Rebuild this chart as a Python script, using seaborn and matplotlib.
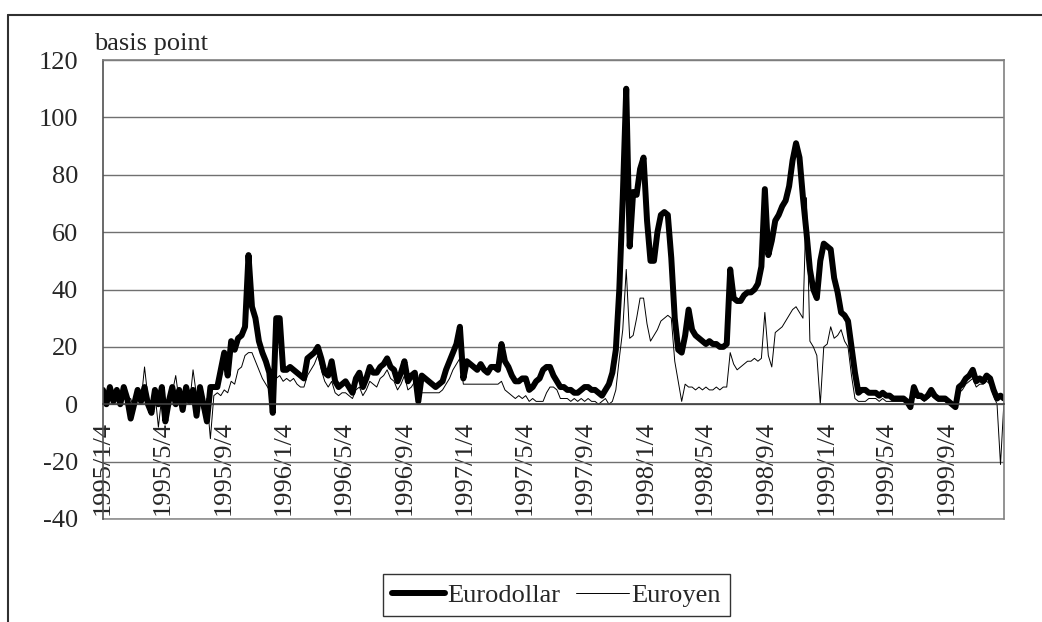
import numpy as np
import pandas as pd
import matplotlib
matplotlib.use('Agg')
import matplotlib.pyplot as plt
import seaborn as sns
from matplotlib.lines import Line2D

# weekly readings, 1995/1/4 .. 1999/12/29 (basis points)
start = '1995-01-04'
eurodollar = [
    5, 0, 6, 1, 5, 0, 6, 2, -5, 0,
    5, 1, 6, 0, -3, 5, 0, 6, -6, 1,
    6, 0, 5, -2, 6, 1, 5, -4, 6, 0,
    -6, 6, 6, 6, 12, 18, 10, 22, 19, 23,
    24, 27, 52, 34, 30, 22, 18, 15, 11, -3,
    30, 30, 12, 12, 13, 12, 11, 10, 9, 16,
    17, 18, 20, 16, 11, 10, 15, 8, 6, 7,
    8, 6, 4, 9, 11, 6, 9, 13, 11, 11,
    13, 14, 16, 13, 12, 8, 11, 15, 8, 10,
    11, 1, 10, 9, 8, 7, 6, 7, 8, 12,
    15, 18, 21, 27, 9, 15, 14, 13, 12, 14,
    12, 11, 13, 13, 12, 21, 15, 13, 10, 8,
    8, 9, 9, 5, 6, 8, 9, 12, 13, 13,
    10, 8, 6, 6, 5, 5, 4, 4, 5, 6,
    6, 5, 5, 4, 3, 5, 7, 11, 19, 40,
    72, 110, 55, 74, 73, 82, 86, 64, 50, 50,
    60, 66, 67, 66, 51, 30, 19, 18, 24, 33,
    26, 24, 23, 22, 21, 22, 21, 21, 20, 20,
    21, 47, 37, 36, 36, 38, 39, 39, 40, 42,
    48, 75, 52, 57, 64, 66, 69, 71, 76, 85,
    91, 86, 72, 60, 47, 40, 37, 50, 56, 55,
    54, 44, 39, 32, 31, 29, 20, 11, 4, 5,
    5, 4, 4, 4, 3, 4, 3, 3, 2, 2,
    2, 2, 1, -1, 6, 3, 3, 2, 3, 5,
    3, 2, 2, 2, 1, 0, -1, 6, 7, 9,
    10, 12, 8, 9, 8, 10, 9, 5, 2, 3,
    2,
]
euroyen = [
    3, 1, 4, 2, 3, 0, 4, 1, 2, -2,
    3, 1, 13, 2, -1, 4, -8, 3, 0, 2,
    4, 10, 1, 3, 2, 0, 12, 3, 1, -3,
    2, -12, 3, 4, 3, 5, 4, 8, 7, 12,
    13, 17, 18, 18, 15, 12, 9, 7, 5, 6,
    9, 10, 8, 9, 8, 9, 7, 6, 6, 10,
    12, 14, 17, 12, 8, 6, 8, 4, 3, 4,
    4, 3, 2, 5, 6, 3, 5, 8, 7, 6,
    9, 10, 12, 9, 8, 5, 7, 10, 5, 6,
    8, 4, 4, 4, 4, 4, 4, 4, 5, 7,
    9, 12, 14, 16, 7, 7, 7, 7, 7, 7,
    7, 7, 7, 7, 7, 8, 5, 4, 3, 2,
    3, 2, 3, 1, 2, 1, 1, 1, 4, 6,
    6, 5, 2, 2, 2, 1, 2, 1, 2, 1,
    2, 1, 1, 0, 1, 2, 0, 1, 5, 16,
    26, 47, 23, 24, 30, 37, 37, 28, 22, 24,
    26, 29, 30, 31, 30, 15, 8, 1, 7, 6,
    6, 5, 6, 5, 6, 5, 5, 6, 5, 6,
    6, 18, 14, 12, 13, 14, 15, 15, 16, 15,
    16, 32, 17, 13, 25, 26, 27, 29, 31, 33,
    34, 32, 30, 72, 22, 20, 17, 0, 20, 21,
    27, 23, 24, 26, 22, 20, 10, 2, 1, 1,
    1, 2, 2, 2, 1, 2, 1, 1, 1, 1,
    1, 1, 0, 0, 4, 2, 2, 1, 2, 3,
    2, 1, 1, 1, 0, 0, 0, 4, 5, 7,
    8, 9, 6, 7, 7, 8, 7, 3, 0, -21,
    1,
]
tick_labels = ['1995/1/4', '1995/5/4', '1995/9/4', '1996/1/4', '1996/5/4',
               '1996/9/4', '1997/1/4', '1997/5/4', '1997/9/4', '1998/1/4',
               '1998/5/4', '1998/9/4', '1999/1/4', '1999/5/4', '1999/9/4']

dates = pd.date_range(start, periods=len(eurodollar), freq='7D')
df = pd.DataFrame({'date': dates, 'Eurodollar': eurodollar, 'Euroyen': euroyen})

sns.set_style('white')
plt.rcParams['font.family'] = ['Liberation Serif', 'DejaVu Serif']
plt.rcParams['axes.unicode_minus'] = False

fig = plt.figure(figsize=(10.42, 6.22), dpi=100)
ax = fig.add_axes([0.0988, 0.1656, 0.8647, 0.7379])

sns.lineplot(data=df, x='date', y='Eurodollar', color='black', lw=4.3, ax=ax)
sns.lineplot(data=df, x='date', y='Euroyen', color='black', lw=0.7, ax=ax)

ax.set_ylim(-40, 120)
ax.set_yticks(range(-40, 121, 20))
ax.set_xlim(dates[0], dates[-1])
ax.yaxis.grid(True, color='#707070', lw=1.0)
ax.axhline(-40, color='#909090', lw=1.2, clip_on=False, zorder=0)
ax.set_axisbelow(True)
ax.set_xlabel('')
ax.set_ylabel('')

ticks = pd.to_datetime(tick_labels, format='%Y/%m/%d')
ax.set_xticks(ticks)
ax.set_xticklabels(tick_labels)
ax.spines['bottom'].set_position(('data', 0))
ax.spines['bottom'].set_color('#404040')
ax.spines['bottom'].set_linewidth(1.2)
for s in ['left', 'top', 'right']:
    ax.spines[s].set_color('#808080')
    ax.spines[s].set_linewidth(1.2)
ax.spines['left'].set_color('#505050')
ax.tick_params(axis='x', direction='in', length=6, width=1, color='#404040',
               pad=12, labelsize=19, labelrotation=90)
ax.tick_params(axis='y', length=0, pad=18, labelsize=19)
for t in ax.get_xticklabels():
    t.set_verticalalignment('top')
    t.set_horizontalalignment('center')

fig.text(94 / 1042, 1 - 50 / 622, 'basis point', fontsize=19, va='baseline')

# outer frame of the figure
fig.add_artist(Line2D([8 / 1042, 8 / 1042], [0, 1 - 15 / 622], color='#303030', lw=1.5))
fig.add_artist(Line2D([8 / 1042, 1], [1 - 15 / 622, 1 - 15 / 622], color='#303030', lw=1.5))

handles = [Line2D([], [], color='black', lw=4.3), Line2D([], [], color='black', lw=0.7)]
leg = fig.legend(handles, ['Eurodollar', 'Euroyen'], loc='center',
                 bbox_to_anchor=(0.534, 0.043), ncol=2, fontsize=19,
                 frameon=True, fancybox=False, edgecolor='black',
                 handlelength=2.0, handletextpad=0.1, columnspacing=0.6,
                 borderpad=0.35)
leg.get_frame().set_linewidth(1.0)

fig.savefig('out.png', dpi=100)
